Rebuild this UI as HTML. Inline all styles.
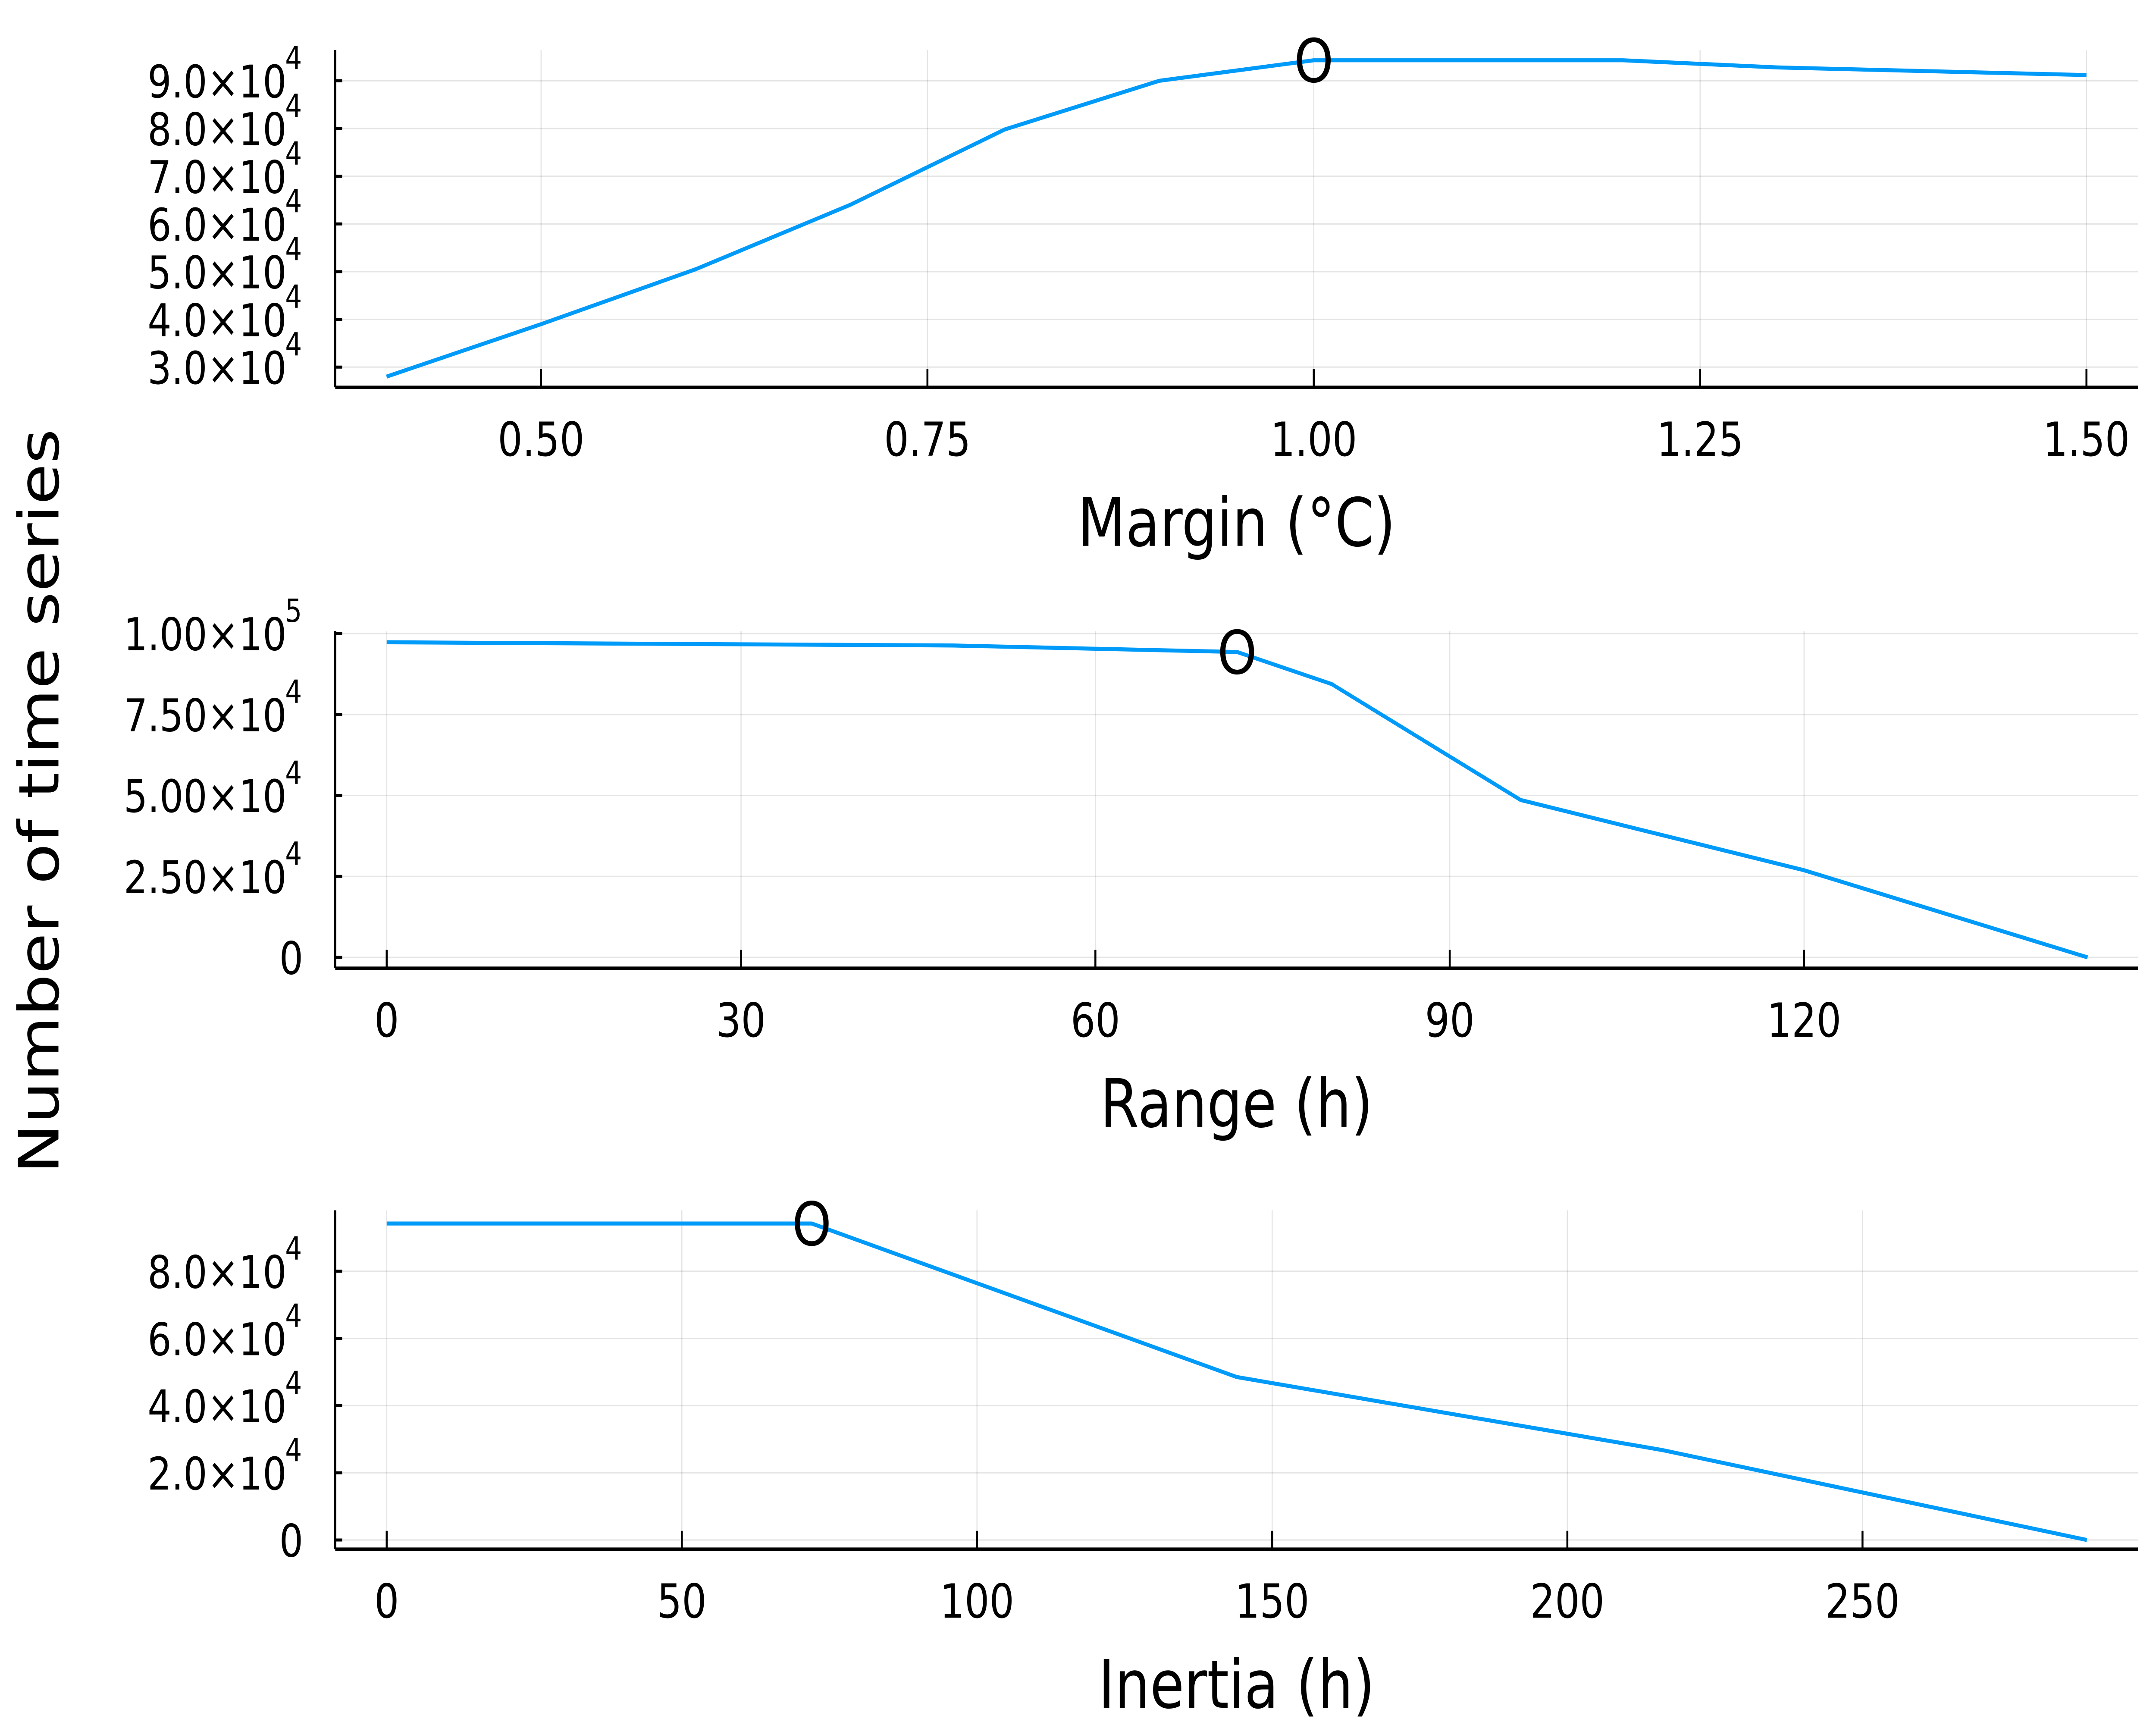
<!DOCTYPE html>
<html><head><meta charset="utf-8"><style>
html,body{margin:0;padding:0;background:#fff;overflow:hidden;width:100%;height:100%;}
svg{display:block;font-family:"DejaVu Sans","Liberation Sans",sans-serif;width:100vw;height:100vh;}
</style></head><body>
<svg id="chart" xmlns="http://www.w3.org/2000/svg" viewBox="0 0 1550 1033.33" preserveAspectRatio="none">
<rect width="1550" height="1033.33" fill="#fff"/>
<text transform="translate(42,480) rotate(-90)" text-anchor="middle" font-size="40">Number of time series</text>
</svg>
<script>
// Panel 1: Margin
const marginX = [0.4,0.5,0.6,0.7,0.8,0.9,1.0,1.1,1.2,1.3,1.4,1.5];
const marginY = [28000,39000,50500,64000,79800,90000,94300,94300,94300,92800,92000,91200];
const marginXTicks = [0.5,0.75,1.0,1.25,1.5];
const marginXTickLabels = ["0.50","0.75","1.00","1.25","1.50"];
const marginYTicks = [30000,40000,50000,60000,70000,80000,90000];
const marginYTickLabels = ["3.0","4.0","5.0","6.0","7.0","8.0","9.0"];
const marginYExp = ["4","4","4","4","4","4","4"];
const marginOpt = [1.0, 94300];
// Panel 2: Range
const rangeX = [0,48,72,80,96,120,144];
const rangeY = [97300,96300,94300,84400,48600,26900,0];
const rangeXTicks = [0,30,60,90,120];
const rangeXTickLabels = ["0","30","60","90","120"];
const rangeYTicks = [0,25000,50000,75000,100000];
const rangeYTickLabels = ["0","2.50","5.00","7.50","1.00"];
const rangeYExp = ["","4","4","4","5"];
const rangeOpt = [72, 94300];
// Panel 3: Inertia
const inertiaX = [0,24,48,72,144,216,288];
const inertiaY = [94200,94200,94200,94200,48500,26800,0];
const inertiaXTicks = [0,50,100,150,200,250];
const inertiaXTickLabels = ["0","50","100","150","200","250"];
const inertiaYTicks = [0,20000,40000,60000,80000];
const inertiaYTickLabels = ["0","2.0","4.0","6.0","8.0"];
const inertiaYExp = ["","4","4","4","4"];
const inertiaOpt = [72, 94200];

const NS="http://www.w3.org/2000/svg";
const svg=document.getElementById('chart');
function mk(tag,attrs,parent){const e=document.createElementNS(NS,tag);for(const k in attrs)e.setAttribute(k,attrs[k]);(parent||svg).appendChild(e);return e;}

function panel(p){
  const g=mk('g',{});
  
  
  const sx=v=>p.px0+(v-p.x0)*(p.px1-p.px0)/(p.x1-p.x0);
  const sy=v=>p.py0+(v-p.y0)*(p.py1-p.py0)/(p.y1-p.y0);
  p.xt.forEach((t,i)=>{
    const l=mk('line',{x1:sx(t),x2:sx(t),y1:p.top,y2:p.bottom,stroke:'#000','stroke-opacity':0.1,'stroke-width':0.8},g);
    
    
  });
  p.yt.forEach((t,i)=>{
    const l=mk('line',{x1:p.left,x2:p.right,y1:sy(t),y2:sy(t),stroke:'#000','stroke-opacity':0.1,'stroke-width':0.8},g);
    
    
  });
  const ax=mk('line',{x1:p.left,x2:p.right,y1:p.bottom,y2:p.bottom,stroke:'#000','stroke-width':2},g);
  
  
  const ay=mk('line',{x1:p.left,x2:p.left,y1:p.top,y2:p.bottom,stroke:'#000','stroke-width':1.6},g);
  
  
  p.xt.forEach((t,i)=>{
    mk('line',{x1:sx(t),x2:sx(t),y1:p.bottom,y2:p.bottom-11,stroke:'#000','stroke-width':1.4},g);
    const tx=mk('text',{x:sx(t),y:p.bottom+41,'text-anchor':'middle','font-size':28},g);
    tx.textContent=p.xl[i];
    
    
  });
  p.yt.forEach((t,i)=>{
    mk('line',{x1:p.left,x2:p.left+5,y1:sy(t),y2:sy(t),stroke:'#000','stroke-width':1.8},g);
    const hasExp=p.ye[i]!=='';
    const tx=mk('text',{x:hasExp?206:218,y:sy(t)+10,'text-anchor':'end','font-size':27},g);
    tx.textContent=p.yl[i]+(hasExp?'\u00d710':'');
    
    
    if(hasExp){
      const ex=mk('text',{x:205,y:sy(t)-7,'font-size':19},g);
      ex.textContent=p.ye[i];
      
      
    }
  });
  const d=p.xs.map((x,i)=>(i?'L':'M')+sx(x).toFixed(2)+','+sy(p.ys[i]).toFixed(2)).join(' ');
  const path=mk('path',{d:d,fill:'none',stroke:'#009af9','stroke-width':2.4,'stroke-linejoin':'round'},g);
  
  
  const m=mk('text',{x:sx(p.opt[0]),y:sy(p.opt[1])+13,'text-anchor':'middle','font-size':36},g);
  m.textContent='O';
  
  
  const at=mk('text',{x:889,y:p.bottom+95,'text-anchor':'middle','font-size':40},g);
  at.textContent=p.title;
  
  
}

panel({name:'margin',title:'Margin (\u00b0C)',xs:marginX,ys:marginY,xt:marginXTicks,xl:marginXTickLabels,yt:marginYTicks,yl:marginYTickLabels,ye:marginYExp,opt:marginOpt,
  x0:0.5,x1:1.5,px0:389,px1:1500,y0:30000,y1:90000,py0:219.9,py1:48.4,left:241,right:1537,top:30,bottom:232});
panel({name:'range',title:'Range (h)',xs:rangeX,ys:rangeY,xt:rangeXTicks,xl:rangeXTickLabels,yt:rangeYTicks,yl:rangeYTickLabels,ye:rangeYExp,opt:rangeOpt,
  x0:0,x1:120,px0:278,px1:1297,y0:0,y1:100000,py0:573.5,py1:379.5,left:241,right:1537,top:378,bottom:580});
panel({name:'inertia',title:'Inertia (h)',xs:inertiaX,ys:inertiaY,xt:inertiaXTicks,xl:inertiaXTickLabels,yt:inertiaYTicks,yl:inertiaYTickLabels,ye:inertiaYExp,opt:inertiaOpt,
  x0:0,x1:250,px0:278,px1:1339,y0:0,y1:80000,py0:922.5,py1:761.5,left:241,right:1537,top:725,bottom:928});
</script>
</body></html>
